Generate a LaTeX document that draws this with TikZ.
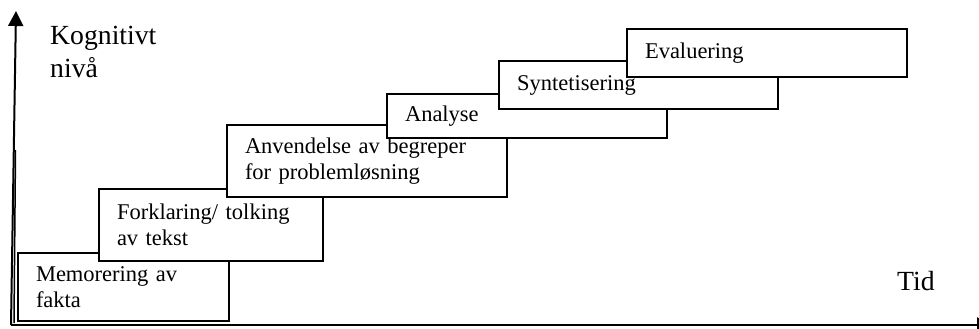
\documentclass[tikz,border=0pt]{standalone}
\usepackage{fontspec}
\setmainfont{Liberation Serif}
\usetikzlibrary{arrows.meta}
\begin{document}
\begin{tikzpicture}[x=1pt,y=-1pt,
  stage/.style={draw=black, line width=2pt, fill=white, anchor=north west,
    align=left, inner xsep=18pt, inner ysep=0pt,
    font=\fontsize{22.5}{26}\selectfont},
  axis/.style={line width=2pt, -{Triangle[length=15pt,width=15pt]}},
  lbl/.style={font=\fontsize{27.7}{33}\selectfont, inner sep=0pt, align=left}]
\useasboundingbox (0,0) rectangle (979,329);
\clip (0,0) rectangle (979,329);

% axes
\coordinate (o) at (11,325);
\coordinate (ytop) at (16,11);
\coordinate (xend) at (992,325);
\draw[axis] (o) -- (ytop);
\draw[axis] (o) -- (xend);
\coordinate (inA) at (14,323);
\coordinate (inB) at (15.5,150);
\draw[line width=1.5pt] (inA) -- (inB);

% stages, each drawn over the previous one
\node[stage, minimum width=211pt, minimum height=68pt, text width=175pt] (mem) at (17,252) {Memorering av\\fakta};
\node[stage, minimum width=224pt, minimum height=72pt, text width=188pt] (fork) at (98,188) {Forklaring/ tolking\\av tekst};
\node[stage, minimum width=280pt, minimum height=72pt, text width=244pt] (anv) at (226,124) {Anvendelse av begreper\\for probleml\o sning};
\node[stage, minimum width=280pt, minimum height=44pt, text width=244pt] (ana) at (386,93) {Analyse};
\node[stage, minimum width=279pt, minimum height=48pt, text width=243pt] (syn) at (498,60) {Syntetisering};
\node[stage, minimum width=280pt, minimum height=48pt, text width=244pt] (eva) at (626,28) {Evaluering};

% axis labels
\node[lbl, anchor=north west] (ylab) at (50,26) {Kognitivt\\niv\aa};
\node[lbl, anchor=base west] (xlab) at (897,290) {Tid};
\end{tikzpicture}
\end{document}
